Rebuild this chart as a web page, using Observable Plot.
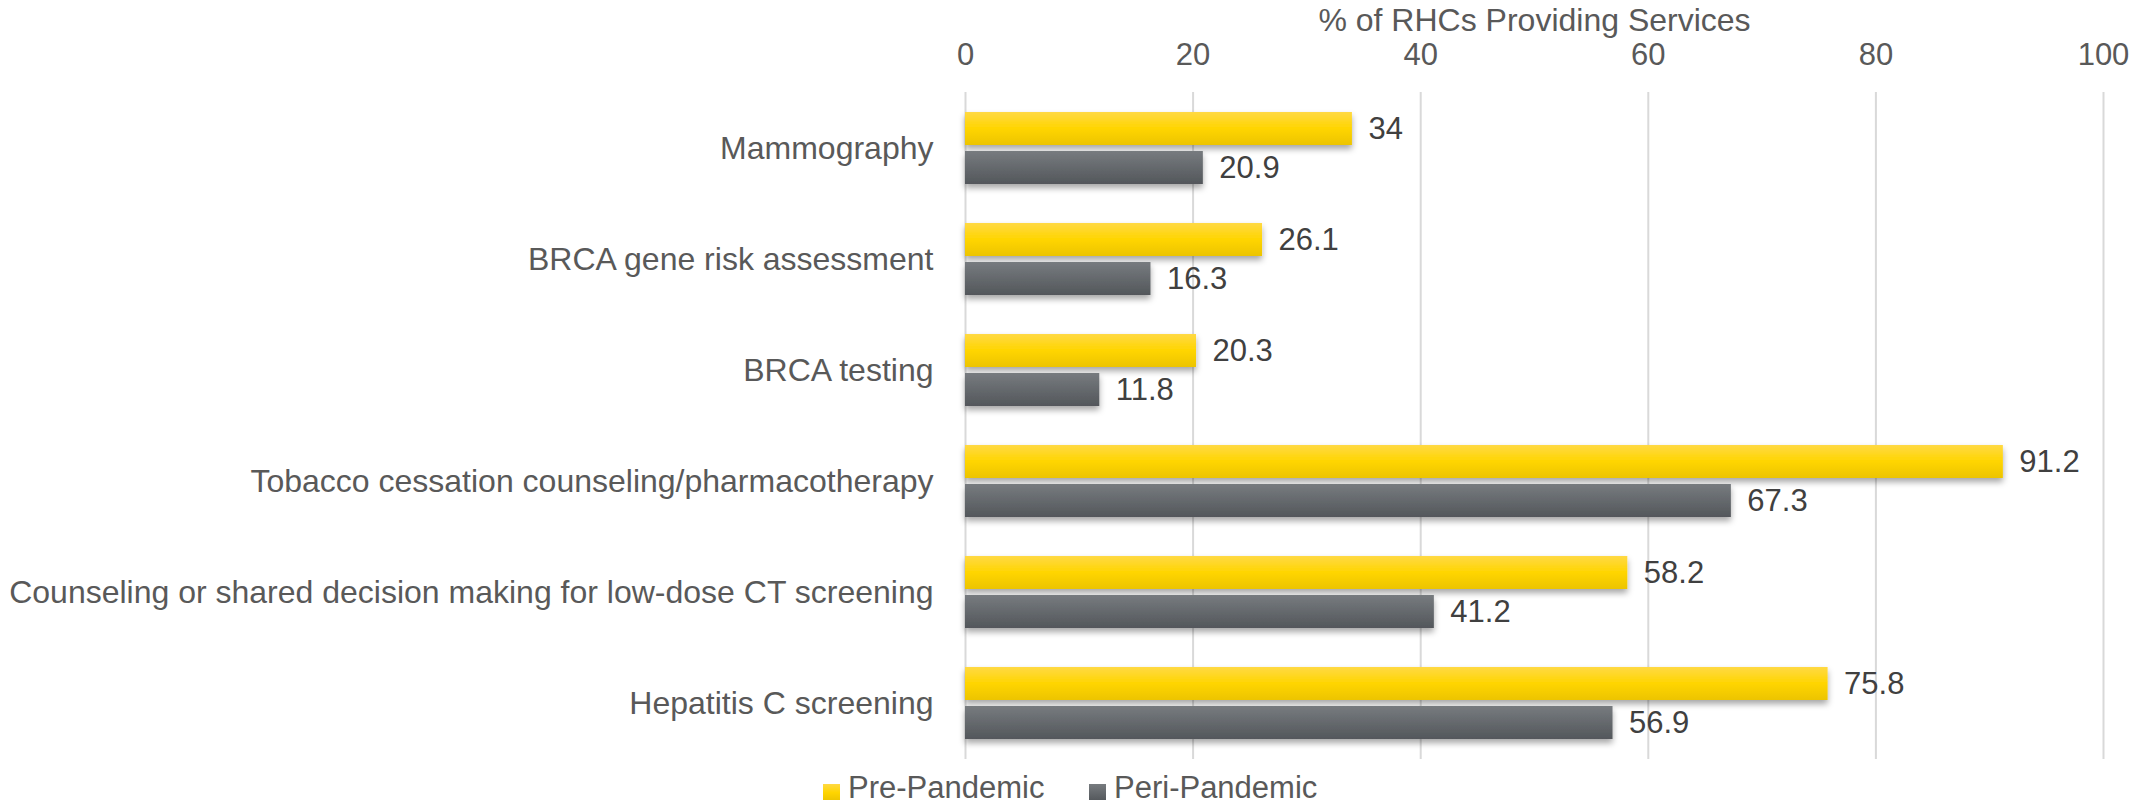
<!DOCTYPE html>
<html>
<head>
<meta charset="utf-8">
<script src="https://cdn.jsdelivr.net/npm/d3@7"></script>
<script src="https://cdn.jsdelivr.net/npm/@observablehq/plot@0.6"></script>
<style>
  html, body { margin: 0; padding: 0; background: #fff; }
  body { width: 2144px; height: 800px; overflow: hidden; font-family: "Liberation Sans", Arial, sans-serif; }
  #legend { position: relative; height: 32px; font-size: 31px; color: #595959; }
  .sw { position: absolute; width: 17px; height: 17px; }
  .lt { position: absolute; line-height: 31px; }
</style>
</head>
<body>
<div id="chart"></div>
<div id="legend"></div>
<script>
const categories = [
  "Mammography",
  "BRCA gene risk assessment",
  "BRCA testing",
  "Tobacco cessation counseling/pharmacotherapy",
  "Counseling or shared decision making for low-dose CT screening",
  "Hepatitis C screening"
];
const seriesNames = ["Pre-Pandemic", "Peri-Pandemic"];
const preValues = [34, 26.1, 20.3, 91.2, 58.2, 75.8];
const periValues = [20.9, 16.3, 11.8, 67.3, 41.2, 56.9];
const xTicks = [0, 20, 40, 60, 80, 100];
const xLabel = "% of RHCs Providing Services";

const pre = categories.map((c, i) => ({category: c, value: preValues[i]}));
const peri = categories.map((c, i) => ({category: c, value: periValues[i]}));

const plot = Plot.plot({
  width: 2144,
  height: 770,
  marginLeft: 965,
  marginRight: 41,
  marginTop: 92,
  marginBottom: 11,
  style: {fontFamily: "'Liberation Sans', Arial, sans-serif", fontSize: "32px", color: "#595959", background: "#fff"},
  x: {domain: [0, 100], ticks: xTicks, axis: "top", label: xLabel, labelArrow: false, labelAnchor: "center", labelOffset: 84, tickSize: 0, tickPadding: 28},
  y: {domain: categories, padding: 0, tickSize: 0, tickPadding: 32, label: null},
  marks: [
    Plot.ruleX(xTicks, {stroke: "#d9d9d9", strokeWidth: 2}),
    Plot.barX(pre, {y: "category", x: "value", fill: "url(#gradPre)", insetTop: 19, insetBottom: 59}),
    Plot.barX(peri, {y: "category", x: "value", fill: "url(#gradPeri)", insetTop: 58, insetBottom: 20}),
    Plot.text(pre, {y: "category", x: "value", text: d => String(d.value), dx: 16, dy: -20, textAnchor: "start", fill: "#404040", fontSize: 31}),
    Plot.text(peri, {y: "category", x: "value", text: d => String(d.value), dx: 16, dy: 19, textAnchor: "start", fill: "#404040", fontSize: 31})
  ]
});

const ns = "http://www.w3.org/2000/svg";
const defs = document.createElementNS(ns, "defs");
defs.innerHTML = `
  <linearGradient id="gradPre" x1="0" y1="0" x2="0" y2="1">
    <stop offset="0" stop-color="#FFD944"/>
    <stop offset="0.5" stop-color="#FFD500"/>
    <stop offset="1" stop-color="#ECC400"/>
  </linearGradient>
  <linearGradient id="gradPeri" x1="0" y1="0" x2="0" y2="1">
    <stop offset="0" stop-color="#777B7F"/>
    <stop offset="1" stop-color="#53575B"/>
  </linearGradient>
  <filter id="shadow" x="-5%" y="-30%" width="110%" height="180%">
    <feDropShadow dx="0" dy="4" stdDeviation="3" flood-color="#000" flood-opacity="0.35"/>
  </filter>`;
plot.insertBefore(defs, plot.firstChild);
plot.querySelectorAll('g[aria-label="bar"]').forEach(g => g.setAttribute("filter", "url(#shadow)"));
plot.querySelectorAll('g[aria-label="x-axis tick label"]').forEach(g => g.setAttribute("font-size", "31"));
document.getElementById("chart").appendChild(plot);

const legend = document.getElementById("legend");
const legendItems = [
  {name: seriesNames[0], fill: "linear-gradient(#FFD944, #FFD500, #ECC400)", left: 823},
  {name: seriesNames[1], fill: "linear-gradient(#777B7F, #53575B)", left: 1089}
];
legendItems.forEach(it => {
  const sw = document.createElement("div");
  sw.className = "sw";
  sw.style.left = it.left + "px";
  sw.style.top = "14px";
  sw.style.background = it.fill;
  legend.appendChild(sw);
  const t = document.createElement("div");
  t.className = "lt";
  t.style.left = (it.left + 25) + "px";
  t.style.top = "2px";
  t.textContent = it.name;
  legend.appendChild(t);
});
</script>
</body>
</html>
